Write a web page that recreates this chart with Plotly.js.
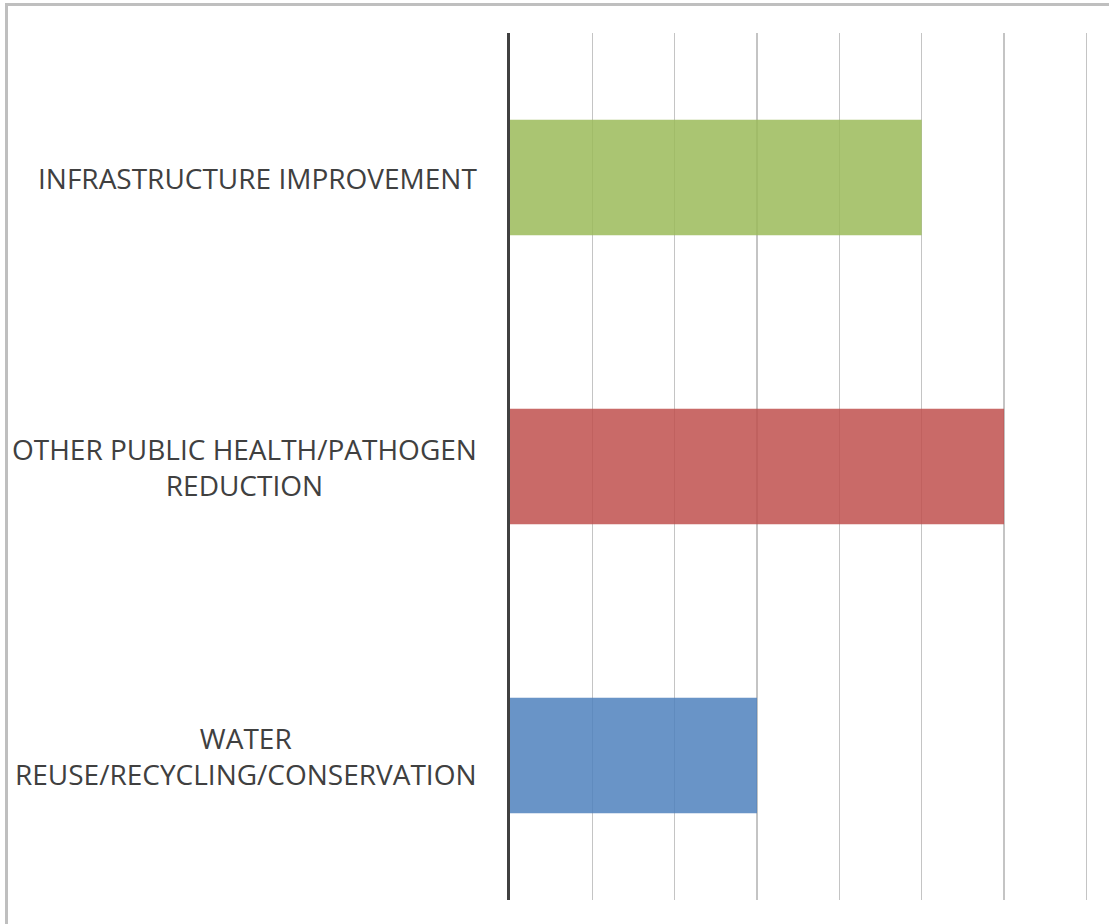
<!DOCTYPE html>
<html>
<head>
<meta charset="utf-8">
<script src="https://cdn.plot.ly/plotly-3.0.1.min.js"></script>
<style>
  html, body { margin: 0; padding: 0; background: #fff; overflow: hidden; }
  #frame { position: absolute; left: 5px; top: 3px; width: 1120px; height: 940px; border: 3px solid #bfbfbf; box-sizing: border-box; }
  #chart { position: absolute; left: 0; top: 0; width: 1109px; height: 924px; }
</style>
</head>
<body>
<div id="frame"></div>
<div id="chart"></div>
<script>
var categories = ["WATER<br>REUSE/RECYCLING/CONSERVATION", "OTHER PUBLIC HEALTH/PATHOGEN<br>REDUCTION", "INFRASTRUCTURE IMPROVEMENT"];
var values = [3, 6, 5];
var barColors = ["#4f81bd", "#c0504d", "#9bbb59"];

var trace = {
  type: "bar",
  orientation: "h",
  x: values,
  y: categories,
  width: 0.4,
  marker: { color: barColors, opacity: 0.85, line: { width: 0 } },
  hoverinfo: "x+y"
};

var annotations = categories.map(function (c) {
  return {
    text: c,
    xref: "paper", yref: "y",
    x: 0, y: c,
    xanchor: "right", yanchor: "middle",
    xshift: -31,
    align: "center",
    showarrow: false,
    font: { family: "Open Sans, sans-serif", size: 28, color: "#404040" }
  };
});

var layout = {
  width: 1109, height: 924,
  margin: { l: 510, r: 21, t: 33, b: 24, pad: 0 },
  paper_bgcolor: "rgba(0,0,0,0)",
  plot_bgcolor: "rgba(0,0,0,0)",
  showlegend: false,
  bargap: 0.6,
  xaxis: {
    range: [0, 7.02], dtick: 1, tick0: 0,
    showgrid: true, gridcolor: "#c4c4c4", gridwidth: 1.5,
    zeroline: false, showline: false, showticklabels: false, ticks: ""
  },
  yaxis: {
    type: "category", range: [-0.5, 2.5],
    showgrid: false, zeroline: false,
    showline: true, linecolor: "#404040", linewidth: 3,
    showticklabels: false, ticks: ""
  },
  annotations: annotations
};

Plotly.newPlot("chart", [trace], layout, { displayModeBar: false, staticPlot: true });
</script>
</body>
</html>
